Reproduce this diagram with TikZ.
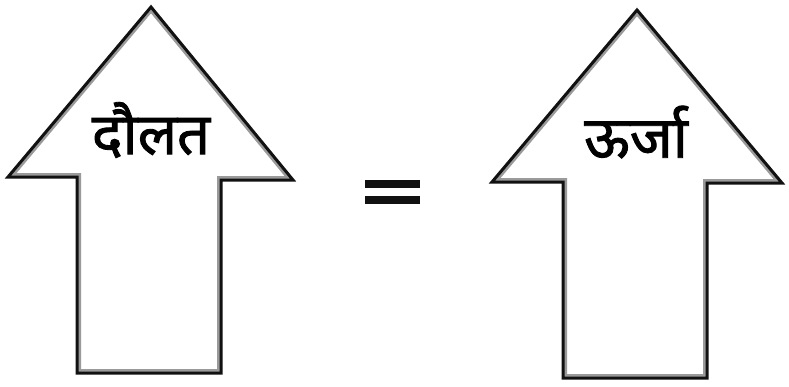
\documentclass[tikz,border=0pt]{standalone}
\usepackage{fontspec}
\usepackage{tikz}
\newfontfamily\devfont[Script=Devanagari,FakeBold=1.5]{Noto Sans}
\definecolor{rekhaKala}{HTML}{111111}
\definecolor{chhayaGrey}{HTML}{9A9A9A}

\tikzset{
  tirrekha/.style={draw=rekhaKala,line width=3pt,line join=miter},
  tirchhaya/.style={draw=chhayaGrey,line width=8pt},
  shabd/.style={font=\devfont\fontsize{58}{60}\selectfont,inner sep=0pt}
}

% up-arrow outline: tip, head corners and shaft
\newcommand{\tir}[7]{%
  \begin{scope}
    \clip #1--#2--#3--#4--#5--#6--#7--cycle;
    \draw[tirchhaya] #1--#2--#3--#4--#5--#6--#7--cycle;
  \end{scope}
  \draw[tirrekha] #1--#2--#3--#4--#5--#6--#7--cycle;
}

\begin{document}
\begin{tikzpicture}[x=1pt,y=-1pt]
\useasboundingbox (0,0) rectangle (789,386);
\tir{(151,7)}{(8,177)}{(77,177)}{(77,373)}{(221,373)}{(221,180)}{(293,180)}
\tir{(637,10)}{(492,182)}{(563,182)}{(563,378)}{(707,378)}{(707,183)}{(782,183)}
\node[shabd] (daulat) at (151,130) {दौलत};
\node[shabd] (urja) at (636,132) {ऊर्जा};
% equals sign
\fill[rekhaKala] (365,180) rectangle (420,188);
\fill[rekhaKala] (365,196) rectangle (420,204);
\end{tikzpicture}
\end{document}
